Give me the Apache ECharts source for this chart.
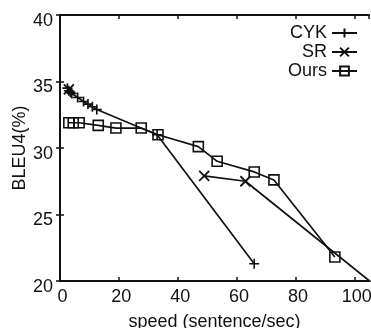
<!DOCTYPE html>
<html>
<head>
<meta charset="utf-8">
<script src="https://cdn.jsdelivr.net/npm/echarts@6/dist/echarts.min.js"></script>
<style>
  html, body { margin: 0; padding: 0; background: #fff; }
  #chart { width: 371px; height: 328px; }
</style>
</head>
<body>
<div id="chart"></div>
<script>
const xTicks = [0, 20, 40, 60, 80, 100]
const yTicks = [20, 25, 30, 35, 40]

const cykData = [
  [2.5, 34.5], [3, 34.3], [3.5, 34.2], [4, 34.1], [6, 33.8], [8, 33.5],
  [9.5, 33.3], [11, 33.1], [12.5, 32.9], [33, 31.0], [66, 21.3]
]
// the last SR point sits just past the corner, so its line runs out of the frame
const srData = [
  [3, 34.4], '-', [49, 27.9], [63, 27.5], [108, 19.5]
]
const oursData = [
  [3, 31.9], [4.5, 31.9], [6.5, 31.9], [13, 31.7], [19, 31.5], [27.6, 31.5],
  [33.3, 31.0], [47, 30.1], [53.4, 29.0], [66, 28.2], [72.7, 27.6], [93.4, 21.8]
]

const chart = echarts.init(document.getElementById('chart'))
const font = 'Liberation Sans, Arial, sans-serif'
const black = '#111'

const tickStyle = { show: true, inside: true, length: 4, lineStyle: { color: black, width: 1.5 } }
const lineStyle = { color: black, width: 1.7 }

const plusPath = 'path://M0,5L10,5M5,0L5,10'
const crossPath = 'path://M0,0L10,10M10,0L0,10'

chart.setOption({
  animation: false,
  textStyle: { fontFamily: font },
  grid: { left: 60, right: 2, top: 15, bottom: 47, outerBoundsMode: 'none', containLabel: false },
  legend: {
    orient: 'vertical',
    right: 13,
    top: 24,
    padding: 0,
    align: 'right',
    itemWidth: 25,
    itemHeight: 11,
    itemGap: 1,
    textStyle: { fontSize: 18, color: black, fontFamily: font },
    data: ['CYK', 'SR', 'Ours']
  },
  xAxis: [
    {
      type: 'value', min: 0, max: 105, interval: 20,
      name: 'speed (sentence/sec)', nameLocation: 'middle', nameGap: 32,
      nameMoveOverlap: false,
      nameTextStyle: { fontSize: 18, color: black, fontFamily: font },
      axisLine: { lineStyle: { color: black, width: 2 } },
      axisTick: tickStyle,
      axisLabel: {
        fontSize: 18, color: black, margin: 7, showMaxLabel: false,
        fontFamily: font, padding: [0, 0, 0, 5]
      },
      splitLine: { show: false }
    },
    {
      type: 'value', position: 'top', min: 0, max: 105, interval: 20,
      axisLine: { show: true, lineStyle: { color: black, width: 2 } },
      axisTick: tickStyle,
      axisLabel: { show: false },
      splitLine: { show: false }
    }
  ],
  yAxis: [
    {
      type: 'value', min: yTicks[0], max: yTicks[yTicks.length - 1], interval: 5,
      name: 'BLEU4(%)', nameLocation: 'middle', nameGap: 31,
      nameMoveOverlap: false,
      nameTextStyle: { fontSize: 18, color: black, fontFamily: font },
      axisLine: { show: true, lineStyle: { color: black, width: 2 } },
      axisTick: tickStyle,
      axisLabel: {
        fontSize: 18, color: black, margin: 7, fontFamily: font,
        verticalAlign: 'top', lineHeight: 12
      },
      splitLine: { show: false }
    },
    {
      type: 'value', position: 'right', min: yTicks[0], max: yTicks[yTicks.length - 1], interval: 5,
      axisLine: { show: true, lineStyle: { color: black, width: 2 } },
      axisTick: tickStyle,
      axisLabel: { show: false },
      splitLine: { show: false }
    }
  ],
  series: [
    {
      name: 'CYK', type: 'line', data: cykData,
      symbol: plusPath, symbolSize: 10,
      itemStyle: { color: 'none', borderColor: black, borderWidth: 1.6 },
      lineStyle
    },
    {
      name: 'SR', type: 'line', data: srData, clip: true,
      symbol: crossPath, symbolSize: 10,
      itemStyle: { color: 'none', borderColor: black, borderWidth: 1.8 },
      lineStyle
    },
    {
      name: 'Ours', type: 'line', data: oursData,
      symbol: 'rect', symbolSize: 10,
      itemStyle: { color: 'none', borderColor: black, borderWidth: 1.6 },
      lineStyle
    }
  ]
})
</script>
</body>
</html>
